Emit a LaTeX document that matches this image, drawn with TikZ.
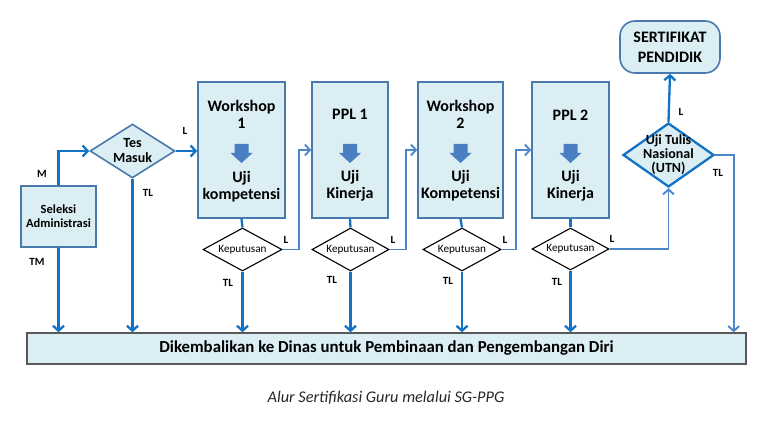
\documentclass[tikz,border=0pt]{standalone}
\usepackage{fontspec}
\setmainfont{Carlito}
\usepackage{tikz}
\usetikzlibrary{shapes.geometric,arrows.meta}

\definecolor{boxfill}{HTML}{DBEEF4}
\definecolor{boxline}{HTML}{4A79AE}
\definecolor{flowblue}{HTML}{1172C6}
\definecolor{passblue}{HTML}{4C87C9}
\definecolor{arrowfill}{HTML}{4A7FC1}
\definecolor{barline}{HTML}{595959}

\begin{document}
\begin{tikzpicture}[x=1pt,y=-1pt,
  >={Straight Barb[length=5pt,width=11pt]},
  box/.style={draw=boxline,fill=boxfill,line width=1.6pt,minimum height=136pt,inner sep=0pt},
  boxtxt/.style={font=\fontsize{16}{17}\selectfont\bfseries,align=center,inner sep=0pt},
  decision/.style={shape=diamond,draw=black,fill=white,line width=1.1pt,inner sep=0pt,minimum width=78pt,minimum height=43pt},
  dectxt/.style={font=\fontsize{11.2}{12}\selectfont,inner sep=0pt},
  flow/.style={draw=flowblue,line width=2.3pt,->},
  pass/.style={draw=passblue,line width=1.9pt,->},
  lbl/.style={font=\fontsize{11}{12}\selectfont\bfseries,inner sep=0pt}]
  \useasboundingbox (0,0) rectangle (758,422);

  % start
  \node[draw=boxline,fill=boxfill,line width=1.6pt,minimum width=75pt,minimum height=61pt,inner sep=0pt] (sel) at (58.5,216.5) {};
  \node[font=\fontsize{12.5}{14}\selectfont\bfseries,align=center,inner sep=0pt] (sel-t) at (sel) {Seleksi\\Administrasi};
  \node[shape=diamond,draw=boxline,fill=boxfill,line width=1.6pt,inner sep=0pt,minimum width=85pt,minimum height=54pt] (tes) at (132.5,151) {};
  \node[font=\fontsize{14}{15}\selectfont\bfseries,align=center,inner sep=0pt] (tes-t) at (tes) {Tes\\Masuk};

  % stages
  \node[box,minimum width=87pt] (ws1) at (241.5,150) {};
  \node[boxtxt] (ws1-a) at (241.5,114) {Workshop\\1};
  \node[boxtxt] (ws1-b) at (241.5,186.5) {Uji\\kompetensi};
  \node[box,minimum width=76pt] (ppl1) at (350,150) {};
  \node[boxtxt] (ppl1-a) at (350,114) {PPL 1};
  \node[boxtxt] (ppl1-b) at (350,185.5) {Uji\\Kinerja};
  \node[box,minimum width=85pt] (ws2) at (460.5,150) {};
  \node[boxtxt] (ws2-a) at (460.5,114) {Workshop\\2};
  \node[boxtxt] (ws2-b) at (460.5,185.5) {Uji\\Kompetensi};
  \node[box,minimum width=77pt] (ppl2) at (570.5,150) {};
  \node[boxtxt] (ppl2-a) at (570.5,115) {PPL 2};
  \node[boxtxt] (ppl2-b) at (570.5,185.5) {Uji\\Kinerja};
  \foreach \x in {241.5,350,460.5,570.5}
    \fill[arrowfill] (\x-7,144) -- (\x+7,144) -- (\x+7,153) -- (\x+11,153) -- (\x,163) -- (\x-11,153) -- (\x-7,153) -- cycle;

  \node[decision,minimum width=79pt] (k1) at (242.5,249.5) {};
  \node[dectxt] (k1-t) at (k1) {Keputusan};
  \node[decision,minimum width=77pt] (k2) at (350.5,249.5) {};
  \node[dectxt] (k2-t) at (k2) {Keputusan};
  \node[decision] (k3) at (462,249.5) {};
  \node[dectxt] (k3-t) at (k3) {Keputusan};
  \node[decision,minimum width=77pt,minimum height=42pt] (k4) at (570.5,249) {};
  \node[dectxt] (k4-t) at (k4) {Keputusan};

  % end
  \node[shape=diamond,draw=flowblue,fill=boxfill,line width=2.3pt,inner sep=0pt,minimum width=91pt,minimum height=64pt] (utn) at (668.5,155) {};
  \node[font=\fontsize{14}{14}\selectfont\bfseries,align=center,inner sep=0pt] (utn-t) at (utn) {Uji Tulis\\Nasional\\(UTN)};
  \node[draw=boxline,fill=boxfill,line width=1.6pt,rounded corners=15pt,minimum width=100pt,minimum height=52pt,inner sep=0pt,
    font=\fontsize{16}{20}\selectfont\bfseries,align=center] (sert) at (670,47) {SERTIFIKAT\\PENDIDIK};
  \node[draw=barline,fill=boxfill,line width=1.4pt,minimum width=719pt,minimum height=31pt,inner sep=0pt,
    font=\fontsize{16.8}{17}\selectfont\bfseries] (bar) at (386.5,348.5) {Dikembalikan ke Dinas untuk Pembinaan dan Pengembangan Diri};
  \node[font=\fontsize{16.3}{17}\selectfont\itshape,text=black!85] (cap) at (386,398) {Alur Serti{}fikasi Guru melalui SG-PPG};

  % connectors
  \draw[flow] (sel.north) |- (tes.west);
  \draw[flow] (sel.south) -- (sel.south |- bar.north);
  \draw[flow] (tes.east) -- (tes.east -| ws1.west);
  \draw[flow] (tes.south) -- (tes.south |- bar.north);
  \draw[flowblue,line width=2.3pt] (ws1.south) -- (k1.north);
  \draw[flowblue,line width=2.3pt] (ppl1.south) -- (k2.north);
  \draw[flowblue,line width=2.3pt] (ws2.south) -- (k3.north);
  \draw[flowblue,line width=2.3pt] (ppl2.south) -- (k4.north);
  \draw[flow] (k1.south) -- (k1.south |- bar.north);
  \draw[flow] (k2.south) -- (k2.south |- bar.north);
  \draw[flow] (k3.south) -- (k3.south |- bar.north);
  \draw[flow] (k4.south) -- (k4.south |- bar.north);
  \draw[pass] (k1.east) -- ++(16,0) |- (ppl1.west);
  \draw[pass] (k2.east) -- ++(16,0) |- (ws2.west);
  \draw[pass] (k3.east) -- ++(14,0) |- (ppl2.west);
  \draw[pass] (k4.east) -| (utn.south);
  \draw[flow] (utn.north) -- (sert.south);
  \draw[pass] (utn.east) -| ([xshift=-13pt]bar.north east);

  % labels
  \node[lbl] (m) at (42,174) {M};
  \node[lbl] (tm) at (37,262) {TM};
  \node[lbl] (l0) at (185,131) {L};
  \node[lbl] (tl0) at (148,193) {TL};
  \node[lbl] (l1) at (286,240) {L};
  \node[lbl] (tl1) at (228,283) {TL};
  \node[lbl] (l2) at (393,240) {L};
  \node[lbl] (tl2) at (332,280) {TL};
  \node[lbl] (l3) at (505,240) {L};
  \node[lbl] (tl3) at (448,281) {TL};
  \node[lbl] (l4) at (612,239) {L};
  \node[lbl] (tl4) at (557,282) {TL};
  \node[lbl] (l5) at (681,112) {L};
  \node[lbl] (tl5) at (718,173) {TL};
\end{tikzpicture}
\end{document}
